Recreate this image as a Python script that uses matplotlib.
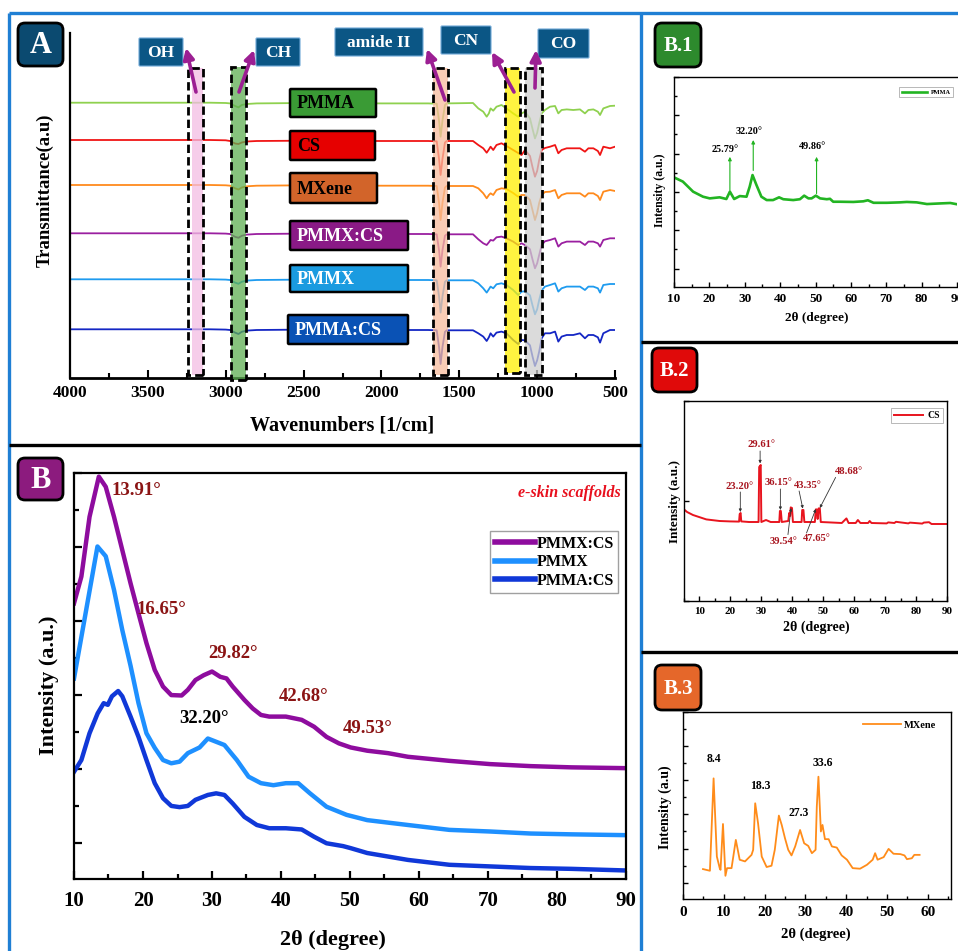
import matplotlib
matplotlib.use("Agg")
import matplotlib.pyplot as plt
from matplotlib.patches import FancyBboxPatch, Rectangle, FancyArrowPatch
from matplotlib.ticker import MultipleLocator, FixedLocator

plt.rcParams['font.family'] = ['Liberation Serif', 'DejaVu Serif']
plt.rcParams['font.weight'] = 'bold'

W, H = 958, 951

# ---------------- A : FTIR spectra ----------------
wavenumber = [4000, 3100, 3000, 2972, 2940, 2918, 2897, 2865, 2801, 2500, 2000, 1700,
              1645, 1630, 1620, 1608, 1592, 1581, 1412, 1378, 1346, 1324, 1310, 1299,
              1282, 1261, 1229, 1197, 1154, 1122, 1100, 1078, 1046, 1030, 1014, 1000,
              987, 971, 950, 917, 885, 864, 843, 810, 768, 725, 693, 671, 639, 610,
              596, 575, 532, 500]
t_pmma = [275.3, 275.3, 275.0, 274.6, 272.0, 270.6, 273.0, 274.0, 274.6, 275.0, 274.6, 274.6,
          274.3, 257.3, 241.3, 257.3, 273.0, 274.6, 275.0, 269.6, 266.3, 261.3, 264.6, 269.6,
          267.3, 271.3, 273.0, 269.6, 264.6, 261.3, 264.6, 266.3, 259.6, 249.3, 239.6, 245.3,
          254.6, 264.6, 268.0, 271.3, 272.0, 264.6, 268.0, 268.6, 268.0, 268.6, 264.6, 268.0,
          268.6, 266.3, 263.0, 269.6, 272.0, 272.3]
t_cs = [238, 238, 237.7, 237, 234.5, 234, 235.5, 236.5, 237, 237.3, 237, 237,
        236.7, 219, 203, 219, 235.5, 237, 237, 233, 229.7, 225.3, 228.5, 231.3,
        228, 233, 234.7, 232, 228, 225, 223, 228, 222, 211, 201.3, 207,
        218, 228, 230, 231.3, 233, 224.7, 228, 229.7, 229.7, 229.7, 226.3, 229.7,
        229.7, 227, 223, 231.3, 229.7, 231.3]
t_mxene = [193, 193, 192.7, 192.3, 189.7, 188.5, 190.5, 191.7, 192.3, 192.7, 192.3, 192.3,
           192, 175, 158, 175, 190.5, 192, 192, 189.7, 184.7, 179.7, 183, 184.7,
           183, 188, 189.7, 189, 185, 181.3, 183, 183, 178, 168, 158, 165,
           175, 183, 186, 186.3, 188, 179.7, 183, 184.7, 184.7, 184.7, 181.3, 184.7,
           184.7, 182, 178, 186.3, 188, 187]
t_pmmx_cs = [144.7, 144.7, 144.4, 144, 141.2, 140.2, 142.2, 143.4, 144, 144.4, 144, 144,
             143.7, 127.7, 111.4, 127.7, 142.2, 143.7, 143.7, 138.7, 134.7, 133, 135.7, 138,
             137.4, 140.7, 141.4, 139.7, 136.4, 133, 134.7, 133, 128.7, 118.7, 109.7, 114.7,
             123, 133, 136.7, 138, 139.7, 131.4, 134.7, 136.4, 136.4, 136.4, 133, 136.4,
             136.4, 134.7, 131.4, 138, 139.7, 139.7]
t_pmmx = [98.7, 98.7, 98.4, 98, 95.4, 94.2, 96.2, 97.4, 98, 98.4, 98, 98,
          97.7, 81.7, 65.4, 81.7, 96.2, 97.7, 97.7, 94.7, 89.7, 85.4, 88.7, 91.4,
          89.7, 93.7, 94.7, 93, 88, 83, 86.4, 86.7, 82.7, 72.7, 63.7, 68.7,
          78, 87.7, 91.4, 93, 94.7, 86.4, 89.7, 91.4, 91.4, 91.4, 88, 91.4,
          91.4, 89.7, 85.4, 93, 94, 94]
t_pmma_cs = [48.7, 48.7, 48.4, 48, 45.4, 44, 46.2, 47.4, 48, 48.4, 48, 48,
             47.7, 31, 14, 31, 46.2, 47.7, 47.7, 44.7, 41.4, 37, 40.7, 44.7,
             41.4, 45.4, 46.4, 44.7, 38, 34, 38, 37.7, 32.7, 21.7, 12, 17.7,
             26.4, 39.7, 44.7, 44.7, 46.4, 36.4, 41.4, 43, 43, 44.7, 39.7, 43,
             43, 40.7, 35.4, 44.7, 48, 48]
ftir_names = ['PMMA', 'CS', 'MXene', 'PMMX:CS', 'PMMX', 'PMMA:CS']
ftir_colors = ['#8FD14F', '#F01515', '#FF8A1C', '#9A1FA0', '#1E9BEF', '#1426C4']

band_names = ['OH', 'CH', 'amide II', 'CN', 'CO']
band_lo = [3146, 2870, 1572, 1110, 969]
band_hi = [3242, 2966, 1669, 1206, 1078]
band_fill_lo = [3146, 2870, 1572, 1110, 969]
band_fill_hi = [3216, 2966, 1669, 1206, 1078]
band_colors = ['#F3BDE4', '#5DAE52', '#F8BB9C', '#FFF000', '#CFCFCF']

# ---------------- B : XRD of scaffolds ----------------
x_pmmx_cs = [10, 11.07, 12.25, 13.6, 14.6, 15.8, 17, 18.2, 19.35, 20.5, 21.7, 22.9, 24.1,
             25.6, 26.5, 27.6, 28.8, 30, 31.2, 32.1, 33, 34.7, 35.9, 37.1, 38.3, 40.7, 43,
             44.8, 46.6, 48.4, 50.1, 52.5, 55.5, 58.4, 64.4, 70.3, 76.2, 82.1, 90]
y_pmmx_cs = [67.9, 74.5, 89.2, 99.1, 96.6, 89.2, 81, 72.8, 65.4, 58.1, 51.5, 47.4, 45.3,
             45.2, 46.6, 49, 50.2, 51.1, 49.8, 49.4, 47.4, 44.1, 42, 40.4, 40, 40, 39.2,
             37.5, 35, 33.4, 32.4, 31.6, 31, 30.1, 29.1, 28.3, 27.8, 27.5, 27.3]
x_pmmx = [10, 13.4, 14.6, 15.8, 17, 18.2, 19.35, 20.5, 21.7, 22.9, 24.1, 25.3, 26.5, 28.2,
          29.4, 30.6, 31.8, 33.6, 35.3, 37.1, 38.9, 40.7, 42.5, 44.2, 46.6, 49.5, 52.5,
          58.4, 64.4, 70.3, 76.2, 82.1, 90]
y_pmmx = [49.4, 81.9, 79.5, 71.2, 61.3, 52.5, 43.3, 35.9, 32.3, 29.3, 28.5, 28.9, 31, 32.4,
          34.6, 33.8, 33, 29.3, 25.2, 23.6, 23.1, 23.6, 23.6, 21.1, 17.8, 15.8, 14.5,
          13.3, 12.1, 11.7, 11.2, 11, 10.8]
x_pmma_cs = [10, 11.07, 12.25, 13.43, 14.3, 14.9, 15.5, 16.4, 17, 18.2, 19.35, 20.5, 21.7,
             22.9, 24.1, 25.3, 26.5, 27.6, 29.4, 30.6, 31.8, 33, 34.7, 36.5, 38.3, 40.7,
             43, 44.8, 46.6, 49, 50.1, 52.5, 58.4, 64.4, 70.3, 76.2, 82.1, 90]
y_pmma_cs = [26.4, 29.3, 35.9, 40.8, 43.3, 42.9, 45, 46.3, 45, 40, 35, 29.3, 23.6,
             19.9, 18, 17.7, 18, 19.5, 20.7, 21.1, 20.7, 18.6, 15.3, 13.3, 12.5, 12.5,
             12.2, 10.4, 8.8, 8.1, 7.6, 6.4, 4.7, 3.5, 3.1, 2.7, 2.5, 2.1]
b_peak_text = ['13.91°', '16.65°', '29.82°', '42.68°', '49.53°']
b_peak_x = [15.5, 19.05, 29.4, 39.7, 49.0]
b_peak_y = [95.8, 66.3, 55.5, 45.0, 37.0]

# ---------------- B.1 : PMMA ----------------
x_b1 = [10, 12.5, 15.4, 18.2, 20.1, 22.9, 24.8, 25.8, 27, 28.6, 30.5, 31.4, 32.2, 33.3,
        34.7, 36.2, 38, 39.7, 40.9, 43.7, 45.6, 46.8, 48, 48.9, 50.1, 51.3, 53.2, 54.1,
        55, 56.9, 60.7, 63.5, 64.8, 66.4, 70.2, 73.9, 75.8, 78.6, 81.5, 85.3, 88.1, 90]
y_b1 = [52.2, 50.2, 45.4, 43, 42.2, 42.7, 41.9, 45.4, 41.9, 43.3, 43, 47.8, 53.3, 48.6,
        43, 41.4, 41.4, 42.7, 41.8, 41.4, 41.8, 43.5, 42.2, 42.2, 43.5, 42.2, 41.8, 42,
        40.6, 40.6, 40.5, 40.8, 41.3, 40.1, 40.1, 40.3, 40.5, 40.3, 39.5, 39.8, 40, 39.4]
b1_text = ['25.79°', '32.20°', '49.86°']
b1_x = [25.8, 32.4, 50.3]
b1_text_y = [65.7, 74.0, 67.0]
b1_base_y = [46.0, 55.5, 44.5]
b1_tip_y = [62.0, 70.0, 62.0]

# ---------------- B.2 : CS ----------------
x_b2 = [5, 6, 7.9, 12.2, 16.5, 19.8, 22.8, 23.0, 23.3, 23.5, 26, 29.1, 29.3, 29.8, 30.0,
        31.5, 33, 35.8, 36.0, 36.3, 36.6, 38.7, 39.0, 39.3, 39.5, 39.9, 40.2, 43.0, 43.2,
        43.6, 43.9, 47.3, 47.6, 47.9, 48.2, 48.5, 48.9, 49.2, 52, 56, 57.5, 58.2, 60.5,
        61.2, 62, 64.5, 65, 65.6, 70.5, 71, 73, 73.5, 77.5, 78, 82, 82.5, 84.2, 85, 90]
y_b2 = [45.8, 44.5, 43, 40.8, 40, 39.8, 39.7, 43.5, 44, 39.8, 39.5, 39.5, 67, 68, 39.5,
        40.5, 39.5, 39.5, 45, 45, 39.5, 40, 44, 42.5, 46.8, 46.5, 39.5, 39.5, 45.5,
        45.5, 39.5, 39.5, 45.8, 45.8, 41, 46.3, 46.3, 39.5, 39.3, 39, 41.3, 39, 39,
        40.5, 39, 39, 40, 39, 38.8, 39.3, 39, 39.6, 38.8, 39.2, 38.7, 39.2, 39.4, 38.5, 38.5]
b2_text = ['29.61°', '23.20°', '36.15°', '43.35°', '48.68°', '39.54°', '47.65°']
b2_text_x = [29.9, 22.8, 35.7, 45.1, 58.3, 37.2, 48.0]
b2_text_y = [78.0, 57.0, 59.0, 57.6, 64.5, 30.0, 31.3]
b2_tail = [(29.6, 75.0), (23.2, 54.5), (36.15, 56.0), (42.2, 55.0), (54.0, 61.8), (38.6, 33.2), (44.6, 34.0)]
b2_tip = [(29.6, 68.8), (23.2, 44.5), (36.15, 45.5), (43.4, 46.2), (48.9, 46.5), (39.6, 46.5), (47.6, 46.0)]

# ---------------- B.3 : MXene ----------------
x_b3 = [4.9, 6.6, 7.5, 8.3, 9.0, 9.2, 9.8, 10.4, 10.8, 11.9, 12.95, 13.9, 15.2, 16.8, 17.2,
        17.7, 18.4, 19.3, 20.5, 21.7, 22.5, 23.5, 24.2, 25, 25.8, 26.6, 27.5, 28.7, 29.7,
        30.7, 31.6, 32.5, 32.8, 33.2, 33.8, 34.2, 34.8, 35.7, 36.5, 37.7, 38.9, 40.2,
        41.6, 43.4, 45.1, 46.5, 47.1, 47.7, 49.2, 50.4, 51.6, 53.3, 54.3, 54.9, 56.1,
        56.7, 58]
y_b3 = [16, 15.1, 64.5, 22.7, 16.5, 15.6, 40.1, 12.4, 16.5, 16.5, 31.6, 21, 20.1, 23.6, 26.3,
        51.2, 40.5, 22.7, 17.1, 17.8, 26.3, 44.6, 39.6, 32.5, 26.3, 23.3, 28.1, 36.9, 29.8,
        28.4, 24.5, 26.3, 49.4, 65.4, 36.1, 39.6, 32, 32, 28.1, 27.5, 23.3, 21,
        16.5, 16.2, 18.3, 21, 24.5, 21, 22.4, 26.8, 24.2, 24, 23.3, 21.3, 21.8,
        23.6, 23.6]
b3_text = ['8.4', '18.3', '27.3', '33.6']
b3_x = [7.5, 18.9, 28.3, 34.3]
b3_y = [75.1, 60.4, 46.2, 72.5]

fig = plt.figure(figsize=(W / 100, H / 100), dpi=100)


def add_ax(l, t, r, b):
    return fig.add_axes([l / W, 1 - b / H, (r - l) / W, (b - t) / H])


xrd_major = [100 - 18.25 * k for k in range(6)]
xrd_minor = [100 - 18.25 * k - 9.125 for k in range(6)]


def style_xrd(ax, xmaj, fs, pad, lw, maj_len, min_len, yticks=True):
    for s in ax.spines.values():
        s.set_linewidth(lw)
    ax.xaxis.set_major_locator(MultipleLocator(xmaj))
    ax.xaxis.set_minor_locator(MultipleLocator(xmaj / 2))
    if yticks:
        ax.yaxis.set_major_locator(FixedLocator(xrd_major))
        ax.yaxis.set_minor_locator(FixedLocator(xrd_minor))
    ax.tick_params(which='both', direction='in', labelleft=False, width=lw)
    ax.tick_params(axis='x', labelsize=fs, pad=pad)
    ax.tick_params(which='major', length=maj_len)
    ax.tick_params(which='minor', length=min_len)


# ---- panel A ----
axA = add_ax(70, 33, 615, 378)
for t, c in zip([t_pmma, t_cs, t_mxene, t_pmmx_cs, t_pmmx, t_pmma_cs], ftir_colors):
    axA.plot(wavenumber, t, color=c, lw=1.3, zorder=2)
axA.set_xlim(4000, 500)
axA.set_ylim(0, 345)
axA.spines['top'].set_visible(False)
axA.spines['right'].set_visible(False)
axA.spines['left'].set_linewidth(1.6)
axA.spines['bottom'].set_linewidth(2.0)
axA.set_yticks([])
axA.xaxis.set_major_locator(MultipleLocator(500))
axA.xaxis.set_minor_locator(MultipleLocator(250))
axA.tick_params(axis='x', which='both', direction='in', width=1.5, labelsize=12.5, pad=5)
axA.tick_params(axis='x', which='major', length=6)
axA.tick_params(axis='x', which='minor', length=3.5)
band_y0 = [0.009, -0.006, 0.009, 0.014, 0.009]
band_y1 = [0.899, 0.901, 0.899, 0.899, 0.899]
trA = axA.get_xaxis_transform()
for lo, hi, flo, fhi, c, y0, y1 in zip(band_lo, band_hi, band_fill_lo, band_fill_hi,
                                       band_colors, band_y0, band_y1):
    axA.add_patch(Rectangle((flo, y0), fhi - flo, y1 - y0, transform=trA, fc=c,
                            ec='none', alpha=0.75, zorder=3, clip_on=False))
    axA.add_patch(Rectangle((lo, y0), hi - lo, y1 - y0, transform=trA, fc='none',
                            ec='black', lw=2.0, ls=(0, (3, 1.5)), zorder=4, clip_on=False))
axA.text(0.5, -0.137, 'Wavenumbers [1/cm]', transform=axA.transAxes, ha='center',
         va='center', fontsize=14.5, fontweight='bold')
axA.text(-0.046, 0.545, 'Transmittance(a.u)', transform=axA.transAxes, ha='center',
         va='center', rotation=90, fontsize=13.5, fontweight='bold')

# ---- panel B ----
axB = add_ax(74, 473, 626, 879)
axB.plot(x_pmmx_cs, y_pmmx_cs, color='#8E0C9E', lw=3.2, label='PMMX:CS')
axB.plot(x_pmmx, y_pmmx, color='#1E90FF', lw=3.2, label='PMMX')
axB.plot(x_pmma_cs, y_pmma_cs, color='#1038D8', lw=3.2, label='PMMA:CS')
axB.set_xlim(10, 90)
axB.set_ylim(0, 100)
style_xrd(axB, 10, 15, 9, 1.6, 6, 3.5)
for s, x, y in zip(b_peak_text, b_peak_x, b_peak_y):
    axB.text(x, y, s, color='#8B1414', fontsize=13.5, fontweight='bold', ha='left', va='center')
axB.text(25.3, 39.5, '32.20°', color='black', fontsize=13.5, fontweight='bold', ha='left', va='center')
axB.text(89.3, 95, 'e-skin scaffolds', color='#E8101E', fontsize=11.5, fontweight='bold',
         style='italic', ha='right', va='center')
legB = axB.legend(loc='upper right', bbox_to_anchor=(0.986, 0.857), borderaxespad=0,
                  prop={'size': 11.5, 'weight': 'bold'}, fancybox=False, edgecolor='#888888',
                  handlelength=2.5, handletextpad=0.1, labelspacing=0.15, borderpad=0.3)
legB.get_frame().set_linewidth(1.0)
for ln in legB.get_lines():
    ln.set_linewidth(4)
axB.text(0.469, -0.150, '2θ (degree)', transform=axB.transAxes, ha='center', va='center',
         fontsize=16, fontweight='bold')
axB.text(-0.045, 0.478, 'Intensity (a.u.)', transform=axB.transAxes, ha='center',
         va='center', rotation=90, fontsize=16, fontweight='bold')

# ---- panel B.1 ----
ax1 = add_ax(674, 77, 957, 287)
ax1.plot(x_b1, y_b1, color='#22B422', lw=1.9, label='PMMA')
ax1.set_xlim(10, 90)
ax1.set_ylim(0, 100)
style_xrd(ax1, 10, 9.5, 4, 1.0, 3.5, 2)
ax1.spines['right'].set_visible(False)
for s, x, ty, by, tipy in zip(b1_text, b1_x, b1_text_y, b1_base_y, b1_tip_y):
    ax1.text(x - 1.2, ty, s, fontsize=7.3, fontweight='bold', ha='center', va='center')
    ax1.annotate('', xy=(x, tipy), xytext=(x, by),
                 arrowprops=dict(arrowstyle='-|>', color='#22B422', lw=0.8,
                                 mutation_scale=5, shrinkA=0, shrinkB=0))
leg1 = ax1.legend(loc='upper right', bbox_to_anchor=(0.986, 0.952), borderaxespad=0,
                  prop={'size': 4.5, 'weight': 'bold'}, fancybox=False, edgecolor='#999999',
                  handlelength=4, handletextpad=0.6, borderpad=0.4)
leg1.get_frame().set_linewidth(0.6)
ax1.text(0.505, -0.148, '2θ (degree)', transform=ax1.transAxes, ha='center', va='center',
         fontsize=9.5, fontweight='bold')
ax1.text(-0.05, 0.46, 'Intensity (a.u.)', transform=ax1.transAxes, ha='center',
         va='center', rotation=90, fontsize=8.5, fontweight='bold')

# ---- panel B.2 ----
ax2 = add_ax(684, 401, 947, 601)
ax2.plot(x_b2, y_b2, color='#E8141E', lw=1.4, label='CS')
ax2.set_xlim(5, 90)
ax2.set_ylim(0, 100)
style_xrd(ax2, 10, 8, 4, 1.0, 3.5, 2, yticks=False)
ax2.xaxis.set_major_locator(FixedLocator(list(range(10, 91, 10))))
ax2.xaxis.set_minor_locator(FixedLocator(list(range(5, 91, 10))))
ax2.yaxis.set_major_locator(FixedLocator([0, 50, 100]))
for s, tx, ty, tail, tip in zip(b2_text, b2_text_x, b2_text_y, b2_tail, b2_tip):
    ax2.text(tx, ty, s, color='#A8141E', fontsize=7.6, fontweight='bold', ha='center', va='center')
    ax2.annotate('', xy=tip, xytext=tail,
                 arrowprops=dict(arrowstyle='-|>', color='#333333', lw=0.6,
                                 mutation_scale=4, shrinkA=0, shrinkB=0))
leg2 = ax2.legend(loc='upper right', bbox_to_anchor=(0.985, 0.965), borderaxespad=0,
                  prop={'size': 7, 'weight': 'bold'}, fancybox=False, edgecolor='#999999',
                  handlelength=3, handletextpad=0.5, borderpad=0.3)
leg2.get_frame().set_linewidth(0.6)
ax2.text(0.502, -0.13, '2θ (degree)', transform=ax2.transAxes, ha='center', va='center',
         fontsize=10, fontweight='bold')
ax2.text(-0.034, 0.495, 'Intensity (a.u.)', transform=ax2.transAxes, ha='center',
         va='center', rotation=90, fontsize=9.5, fontweight='bold')

# ---- panel B.3 ----
ax3 = add_ax(683, 712, 951, 899)
ax3.plot(x_b3, y_b3, color='#FF8C1A', lw=1.3, label='MXene')
ax3.set_xlim(0, 65.7)
ax3.set_ylim(0, 100)
style_xrd(ax3, 10, 11, 5, 1.0, 3.5, 2)
for s, x, y in zip(b3_text, b3_x, b3_y):
    ax3.text(x, y, s, fontsize=8.5, fontweight='bold', ha='center', va='center')
ax3.legend(loc='upper right', bbox_to_anchor=(0.96, 0.975), borderaxespad=0,
           prop={'size': 7.5, 'weight': 'bold'}, frameon=False, handlelength=3.6,
           handletextpad=0.3)
ax3.text(0.497, -0.187, '2θ (degree)', transform=ax3.transAxes, ha='center', va='center',
         fontsize=10.5, fontweight='bold')
ax3.text(-0.067, 0.49, 'Intensity (a.u)', transform=ax3.transAxes, ha='center',
         va='center', rotation=90, fontsize=10, fontweight='bold')

# ---- overlay: frames, tags, arrows (pixel coordinates) ----
ov = fig.add_axes([0, 0, 1, 1], zorder=20)
ov.set_xlim(0, W)
ov.set_ylim(H, 0)
ov.axis('off')


def tag(x0, y0, x1, y1, s, fc, tc='white', fs=13, r=6, lw=1.8, ec='black', left=False):
    ov.add_patch(FancyBboxPatch((x0, y0), x1 - x0, y1 - y0,
                                boxstyle=f'round,pad=0,rounding_size={r}',
                                fc=fc, ec=ec, lw=lw))
    x = x0 + 7 if left else (x0 + x1) / 2
    ov.text(x, (y0 + y1) / 2 + 1, s, ha='left' if left else 'center', va='center',
            color=tc, fontsize=fs, fontweight='bold')


blue = '#1F7FD4'
for xs, ys, c in [([9, 9], [13, 951], blue), ([9, 958], [13, 13], blue),
                  ([641, 641], [13, 951], blue), ([9, 641], [445, 445], 'black'),
                  ([641, 958], [342, 342], 'black'), ([641, 958], [652, 652], 'black')]:
    ov.plot(xs, ys, color=c, lw=2.4, solid_capstyle='butt')

tag(18, 23, 63, 66, 'A', '#0B4A70', fs=22, r=7, lw=2)
tag(18, 458, 63, 500, 'B', '#8C1B7E', fs=22, r=7, lw=2)
tag(655, 23, 701, 67, 'B.1', '#2D8A2D', fs=15, r=7, lw=2)
tag(652, 348, 697, 392, 'B.2', '#E00A0A', fs=15, r=7, lw=2)
tag(655, 665, 701, 710, 'B.3', '#E5672A', fs=15, r=7, lw=2)

box_px = [(290, 89, 376, 117), (290, 131, 375, 160), (290, 173, 377, 203),
          (290, 221, 408, 250), (290, 265, 408, 292), (288, 315, 408, 344)]
box_fc = ['#3A9B35', '#E60000', '#D2642A', '#8A1A86', '#1A9BE0', '#0A52B5']
box_tc = ['black', 'black', 'black', 'white', 'white', 'white']
for (x0, y0, x1, y1), name, fc, tc in zip(box_px, ftir_names, box_fc, box_tc):
    tag(x0, y0, x1, y1, name, fc, tc=tc, fs=13, r=1, lw=1.8, left=True)

band_tag_px = [(139, 38, 183, 66), (256, 38, 300, 66), (335, 28, 423, 56),
               (441, 26, 491, 54), (538, 29, 589, 58)]
for (x0, y0, x1, y1), name in zip(band_tag_px, band_names):
    tag(x0, y0, x1, y1, name, '#0B5685', fs=12.5, r=1, lw=0.8, ec='#6FA8D6')

arrow_tail = [(196, 92), (239, 92), (445, 100), (514, 92), (535, 88)]
arrow_tip = [(186, 48), (254, 50), (427, 49), (492, 52), (536, 50)]
for a, b in zip(arrow_tail, arrow_tip):
    ov.add_patch(FancyArrowPatch(a, b, arrowstyle='-|>', mutation_scale=16, lw=2.6,
                                 color='#9C1F93', shrinkA=0, shrinkB=0))

fig.savefig('out.png', dpi=100)
